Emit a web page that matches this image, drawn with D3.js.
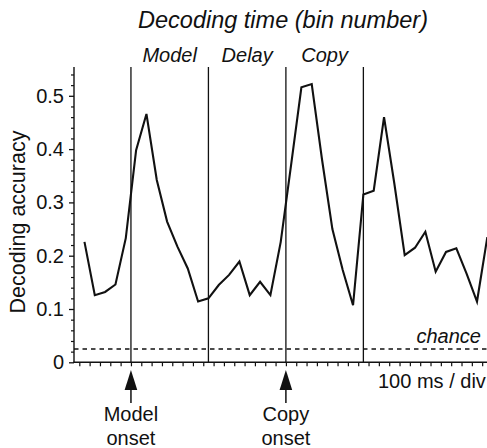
<!DOCTYPE html>
<html>
<head>
<meta charset="utf-8">
<script src="https://cdn.jsdelivr.net/npm/d3@7"></script>
<style>
  html, body { margin: 0; padding: 0; background: #fff; }
  svg { display: block; }
  text { font-family: "Liberation Sans", Arial, Helvetica, sans-serif; fill: #111; }
</style>
</head>
<body>
<div id="chart"></div>
<script>
// ---- data ----
const accuracy = [0.226, 0.126, 0.132, 0.146, 0.233, 0.398, 0.466, 0.342, 0.264, 0.217,
                  0.176, 0.114, 0.120, 0.145, 0.164, 0.189, 0.126, 0.151, 0.126, 0.226,
                  0.370, 0.516, 0.522, 0.380, 0.250, 0.173, 0.107, 0.315, 0.322, 0.460,
                  0.335, 0.201, 0.215, 0.245, 0.170, 0.207, 0.214, 0.166, 0.114, 0.235];
const chance = 0.025;
const yMajorTicks = [0, 0.1, 0.2, 0.3, 0.4, 0.5];
const yTickLabels = ["0", "0.1", "0.2", "0.3", "0.4", "0.5"];
const yMinorTicks = [0.02,0.04,0.06,0.08,0.12,0.14,0.16,0.18,0.22,0.24,0.26,0.28,0.32,0.34,0.36,0.38,0.42,0.44,0.46,0.48,0.52,0.54];
const phaseBoundaries = [5, 12.5, 20, 27.5];      // in 100 ms divisions
const phaseNames = ["Model", "Delay", "Copy"];
const onsetMarks = [5, 20];
const onsetNames = [["Model", "onset"], ["Copy", "onset"]];

// ---- layout ----
const W = 487, H = 448;
const axisX = 74, axisY = 362.3, topY = 67;
const svg = d3.select("#chart").append("svg").attr("width", W).attr("height", H);

const x = d3.scaleLinear().domain([0, 40]).range([79.3, 79.3 + 40 * 10.33]);
const y = d3.scaleLinear().domain([0, 0.55]).range([axisY, axisY - 0.55 * 533]);

// vertical phase lines
svg.selectAll(".phase").data(phaseBoundaries).enter().append("line")
  .attr("x1", d => x(d)).attr("x2", d => x(d))
  .attr("y1", axisY).attr("y2", topY)
  .attr("stroke", "#111").attr("stroke-width", 1.3);

// chance line
svg.append("line")
  .attr("x1", axisX).attr("x2", W)
  .attr("y1", y(chance)).attr("y2", y(chance))
  .attr("stroke", "#111").attr("stroke-width", 1.3)
  .attr("stroke-dasharray", "4.5,4");

// data line
const line = d3.line().x((d, i) => x(i + 0.5)).y(d => y(d));
svg.append("path").datum(accuracy)
  .attr("d", line).attr("fill", "none")
  .attr("stroke", "#111").attr("stroke-width", 2.1).attr("stroke-linejoin", "miter");

// y axis
const yAxisMajor = d3.axisLeft(y).tickValues(yMajorTicks).tickSize(5).tickPadding(5)
  .tickFormat((d, i) => yTickLabels[i]);
const gY = svg.append("g").attr("transform", `translate(${axisX},0)`).call(yAxisMajor);
gY.select(".domain").remove();
gY.selectAll(".tick line").attr("stroke", "#111").attr("stroke-width", 1.3);
gY.selectAll(".tick text").attr("font-size", 20).attr("fill", "#111")
  .attr("font-family", "Liberation Sans, Arial, sans-serif");
const gYm = svg.append("g").attr("transform", `translate(${axisX},0)`)
  .call(d3.axisLeft(y).tickValues(yMinorTicks).tickSize(3).tickFormat(""));
gYm.select(".domain").remove();
gYm.selectAll(".tick line").attr("stroke", "#111").attr("stroke-width", 1.2);
svg.append("line").attr("x1", axisX).attr("x2", axisX).attr("y1", topY).attr("y2", axisY + 0.7)
  .attr("stroke", "#111").attr("stroke-width", 1.4);

// x axis
const gX = svg.append("g").attr("transform", `translate(0,${axisY})`)
  .call(d3.axisBottom(x).tickValues(d3.range(0, 41)).tickSize(4).tickFormat(""));
gX.select(".domain").remove();
gX.selectAll(".tick line").attr("stroke", "#111").attr("stroke-width", 1.2);
svg.append("line").attr("x1", axisX - 0.7).attr("x2", W).attr("y1", axisY).attr("y2", axisY)
  .attr("stroke", "#111").attr("stroke-width", 1.4);

// titles / labels
svg.append("text").attr("x", 283).attr("y", 28).attr("text-anchor", "middle")
  .attr("font-size", 23.5).attr("font-style", "italic").text("Decoding time (bin number)");

svg.selectAll(".pname").data(phaseNames).enter().append("text")
  .attr("x", (d, i) => (x(phaseBoundaries[i]) + x(phaseBoundaries[i + 1])) / 2)
  .attr("y", 61.5).attr("text-anchor", "middle")
  .attr("font-size", 20).attr("font-style", "italic").text(d => d);

svg.append("text").attr("transform", "translate(25,222) rotate(-90)")
  .attr("text-anchor", "middle").attr("font-size", 21.5).text("Decoding accuracy");

svg.append("text").attr("x", 481).attr("y", 343.3).attr("text-anchor", "end")
  .attr("font-size", 20).attr("font-style", "italic").text("chance");

svg.append("text").attr("x", 378).attr("y", 388.3)
  .attr("font-size", 20).text("100 ms / div");

// onset arrows
onsetMarks.forEach((m, i) => {
  const cx = x(m);
  svg.append("path")
    .attr("d", `M${cx},370 L${cx - 6.3},390 L${cx + 6.3},390 Z`)
    .attr("fill", "#111");
  svg.append("line").attr("x1", cx).attr("x2", cx).attr("y1", 389).attr("y2", 403)
    .attr("stroke", "#111").attr("stroke-width", 1.5);
  onsetNames[i].forEach((t, j) => {
    svg.append("text").attr("x", cx).attr("y", 421 + j * 24).attr("text-anchor", "middle")
      .attr("font-size", 20).text(t);
  });
});
</script>
</body>
</html>
